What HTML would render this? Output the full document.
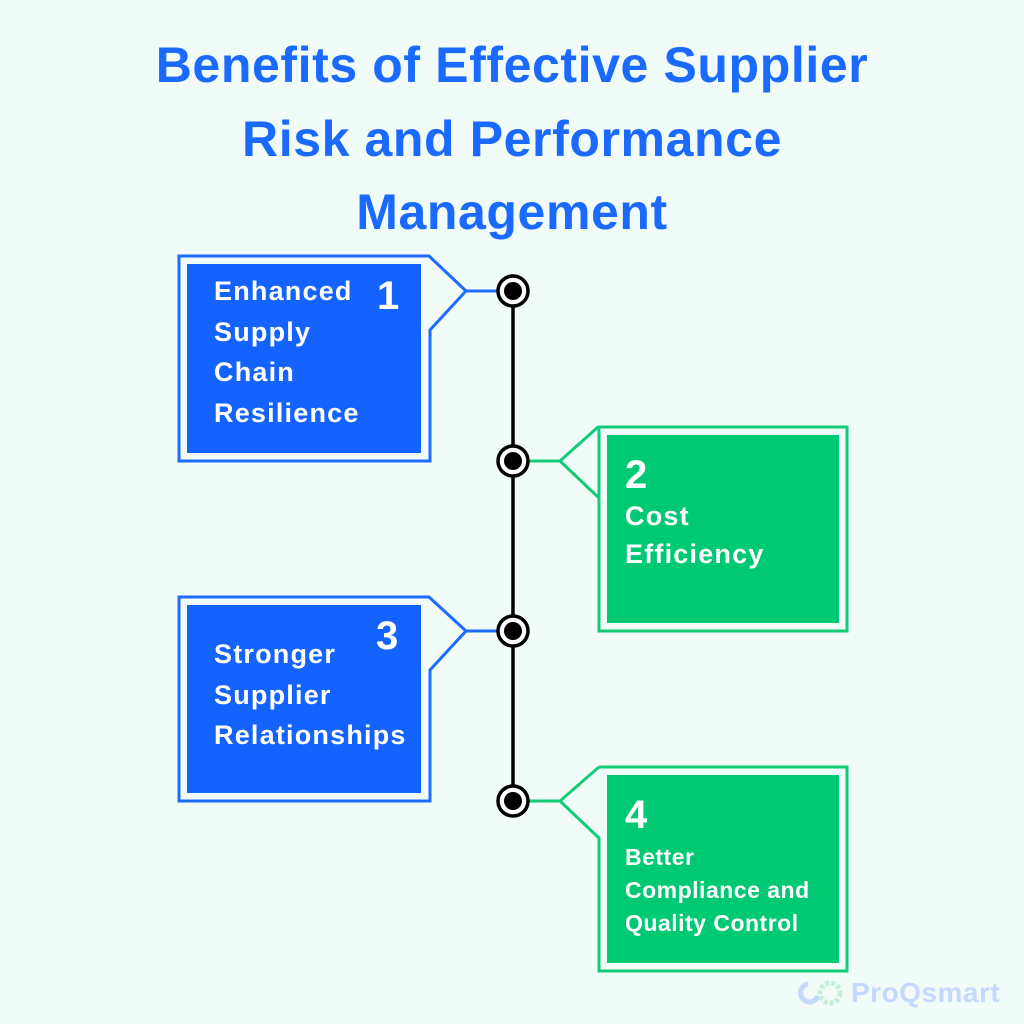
<!DOCTYPE html>
<html><head><meta charset="utf-8"><style>
html,body{margin:0;padding:0;background:#f1fbf7;}
body{width:1024px;height:1024px;position:relative;overflow:hidden;font-family:"Liberation Sans",sans-serif;}
.t{position:absolute;left:0;width:1024px;text-align:center;color:#1a6aff;font-weight:bold;font-size:50px;letter-spacing:0.6px;}
.x{position:absolute;color:#fff;font-weight:bold;font-size:27px;line-height:40.5px;letter-spacing:1.2px;}
.n{position:absolute;color:#fff;font-weight:bold;font-size:40px;}
</style></head><body>
<div class="t" style="top:36px">Benefits of Effective Supplier</div>
<div class="t" style="top:110px">Risk and Performance</div>
<div class="t" style="top:183px">Management</div>
<svg width="1024" height="1024" style="position:absolute;left:0;top:0">
<line x1="513" y1="291" x2="513" y2="801" stroke="#000" stroke-width="3.5"/>
<g fill="none" stroke-width="3">
<path d="M179 256 H429 L466 291 L430 330 V461 H179 Z" stroke="#1f6bff"/>
<line x1="466" y1="291" x2="500" y2="291" stroke="#1f6bff"/>
<path d="M179 597 H429 L466 631 L430 670 V801 H179 Z" stroke="#1f6bff"/>
<line x1="466" y1="631" x2="500" y2="631" stroke="#1f6bff"/>
<path d="M847 427 H599 V498 L560 461 L598 427" stroke="#10cc78"/>
<path d="M599 427 H847 V631 H599 V498" stroke="#10cc78"/>
<line x1="526" y1="461" x2="560" y2="461" stroke="#10cc78"/>
<path d="M599 767 H847 V971 H599 V838 L560 801 L599 767" stroke="#10cc78"/>
<line x1="526" y1="801" x2="560" y2="801" stroke="#10cc78"/>
</g>
<rect x="187" y="264" width="234" height="189" fill="#1463ff"/>
<rect x="187" y="605" width="234" height="188" fill="#1463ff"/>
<rect x="607" y="435" width="232" height="188" fill="#00c974"/>
<rect x="607" y="775" width="232" height="188" fill="#00c974"/>
<g fill="#fff" stroke="#000" stroke-width="3.5">
<circle cx="513" cy="291" r="15"/><circle cx="513" cy="461" r="15"/><circle cx="513" cy="631" r="15"/><circle cx="513" cy="801" r="15"/>
</g>
<g fill="#000"><circle cx="513" cy="291" r="9"/><circle cx="513" cy="461" r="9"/><circle cx="513" cy="631" r="9"/><circle cx="513" cy="801" r="9"/></g>
<g fill="none" stroke-width="5"><path d="M808 984 A9 9 0 1 0 818 996" stroke="#c4d9ff"/><circle cx="830" cy="993" r="10" stroke="#c4f0d8" stroke-dasharray="4 2"/></g>
</svg>
<div class="n" style="left:377px;top:274px">1</div>
<div class="x" style="left:214px;top:271px">Enhanced<br>Supply<br>Chain<br>Resilience</div>
<div class="n" style="left:625px;top:453px">2</div>
<div class="x" style="left:625px;top:497px;line-height:38px">Cost<br>Efficiency</div>
<div class="n" style="left:376px;top:614px">3</div>
<div class="x" style="left:214px;top:634px">Stronger<br>Supplier<br>Relationships</div>
<div class="n" style="left:625px;top:793px">4</div>
<div class="x" style="left:625px;top:841px;font-size:23px;line-height:33px;letter-spacing:0.5px">Better<br>Compliance and<br>Quality Control</div>
<div style="position:absolute;left:851px;top:977px;font-size:28px;color:#c4d9ff;font-weight:bold;letter-spacing:0.5px">ProQsmart</div>
</body></html>
